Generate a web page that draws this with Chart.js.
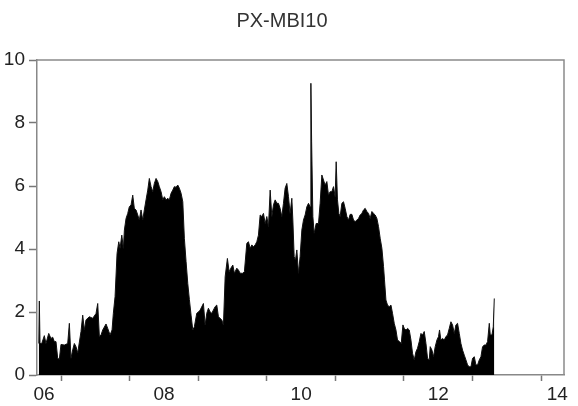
<!DOCTYPE html>
<html><head><meta charset="utf-8">
<script src="https://cdn.jsdelivr.net/npm/chart.js@4/dist/chart.umd.min.js"></script>
<style>html,body{margin:0;padding:0;background:#fff}#wrap{width:578px;height:406px;position:relative}</style>
</head><body><div id="wrap"><canvas id="c"></canvas></div>
<script>
const chartTitle = "PX-MBI10";
const dates = [
2006.672,2006.680,2006.690,2006.715,2006.753,2006.777,2006.817,2006.850,2006.875,2006.899,2006.923,2006.948,2006.972,2006.996,
2007.045,2007.094,2007.118,2007.142,2007.167,2007.191,2007.215,2007.240,2007.288,2007.313,2007.337,2007.361,2007.410,2007.459,
2007.507,2007.532,2007.556,2007.580,2007.605,2007.653,2007.678,2007.712,2007.741,2007.760,2007.785,2007.814,2007.839,2007.858,
2007.883,2007.906,2007.921,2007.945,2007.970,2007.993,
2008.018,2008.043,2008.066,2008.091,2008.116,2008.139,2008.164,2008.189,2008.212,2008.237,2008.262,2008.285,2008.310,2008.335,
2008.358,2008.383,2008.408,2008.431,2008.456,2008.481,2008.504,2008.529,2008.554,2008.577,2008.602,2008.627,2008.650,2008.675,
2008.700,2008.723,2008.748,2008.773,2008.796,2008.821,2008.846,2008.869,2008.894,2008.919,2008.942,2008.977,
2009.001,2009.026,2009.074,2009.099,2009.123,2009.147,2009.172,2009.196,2009.245,2009.269,2009.293,2009.342,2009.366,2009.391,
2009.424,2009.449,2009.474,2009.503,2009.526,2009.561,2009.585,2009.610,2009.649,2009.672,2009.707,2009.731,2009.756,2009.780,
2009.804,2009.829,2009.853,2009.877,2009.902,2009.926,2009.950,2009.975,2009.999,
2010.023,2010.048,2010.072,2010.096,2010.121,2010.145,2010.169,2010.193,2010.218,2010.242,2010.266,2010.291,2010.315,2010.339,
2010.364,2010.379,2010.398,2010.417,2010.437,2010.461,2010.485,2010.510,2010.534,2010.558,2010.583,2010.607,2010.631,2010.642,
2010.653,2010.671,2010.690,2010.719,2010.753,2010.777,2010.802,2010.826,2010.850,2010.875,2010.899,2010.923,2010.948,2010.972,
2010.996,
2011.011,2011.030,2011.050,2011.069,2011.094,2011.118,2011.142,2011.167,2011.191,2011.215,2011.240,2011.264,2011.288,2011.313,
2011.337,2011.361,2011.386,2011.410,2011.434,2011.459,2011.483,2011.507,2011.532,2011.556,2011.580,2011.605,2011.629,2011.653,
2011.678,2011.702,2011.716,2011.737,2011.760,2011.785,2011.810,2011.833,2011.858,2011.883,2011.906,2011.935,2011.960,2011.985,
2012.004,2012.029,2012.052,2012.077,2012.102,2012.125,2012.150,2012.175,2012.198,2012.223,2012.248,2012.271,2012.296,2012.321,
2012.344,2012.369,2012.383,2012.408,2012.431,2012.456,2012.481,2012.504,2012.519,2012.539,2012.563,2012.588,2012.612,2012.636,
2012.661,2012.685,2012.709,2012.734,2012.758,2012.782,2012.807,2012.831,2012.855,2012.880,2012.904,2012.928,2012.953,2012.977,
2013.001,2013.026,2013.050,2013.074,2013.099,2013.123,2013.147,2013.172,2013.196,2013.220,2013.245,2013.259,2013.284,2013.303,
2013.318
];
const values = [
1.00,2.35,1.00,1.00,1.25,1.00,1.32,1.16,1.20,1.06,1.06,0.53,0.50,0.97,
0.95,1.00,1.64,0.53,0.80,1.00,0.90,0.70,1.38,1.90,1.43,1.75,1.85,1.80,
1.95,2.27,1.22,1.27,1.43,1.62,1.48,1.27,1.43,1.96,2.49,3.86,4.23,4.02,
4.44,4.02,4.60,4.97,5.13,5.34,
5.40,5.71,5.29,5.24,5.08,4.92,5.24,4.92,5.24,5.56,5.87,6.24,5.98,5.82,
6.08,6.24,6.14,5.98,5.82,5.56,5.66,5.56,5.61,5.56,5.77,5.87,5.98,5.96,
6.03,5.93,5.77,5.50,4.34,3.60,2.90,2.40,1.90,1.43,1.53,1.96,
2.00,2.06,2.27,1.59,1.96,2.12,2.00,1.96,2.17,2.22,1.85,1.75,1.59,3.12,
3.70,3.28,3.39,3.49,3.23,3.39,3.33,3.23,3.23,3.28,4.18,4.23,4.02,4.13,
4.07,4.13,4.23,4.44,5.08,5.03,5.13,4.81,5.03,
4.71,5.87,5.03,5.40,5.56,5.45,5.45,5.29,5.03,5.45,5.93,6.08,5.66,5.13,
5.61,4.92,3.76,3.65,3.97,3.23,3.76,4.60,4.92,5.08,5.34,5.45,5.34,9.26,
7.40,5.03,4.50,4.81,4.81,5.45,6.35,6.19,6.03,6.14,5.71,5.82,5.82,5.98,
5.66,
6.77,5.56,5.13,5.03,5.45,5.50,5.29,5.03,4.92,5.10,5.10,4.92,4.87,4.92,
4.97,5.08,5.13,5.24,5.29,5.19,5.13,4.97,5.19,5.13,5.08,4.97,4.71,4.34,
4.02,3.44,3.02,2.38,2.22,2.17,2.22,1.96,1.64,1.43,1.11,1.06,1.00,1.59,
1.48,1.43,1.48,1.43,1.11,0.69,0.48,0.74,0.85,1.06,1.32,1.27,1.38,1.00,
0.53,0.48,0.90,0.79,0.58,0.90,1.11,1.22,1.43,1.11,1.16,1.11,1.22,1.27,
1.48,1.69,1.59,1.32,1.59,1.64,1.32,1.00,0.79,0.63,0.48,0.32,0.26,0.26,
0.53,0.58,0.32,0.32,0.48,0.58,0.90,0.95,0.95,1.06,1.64,1.27,1.27,1.53,
2.43
];
const yearTicks = [2007, 2008, 2009, 2010, 2011, 2012, 2013, 2014];
const yearLabels = ["06", "08", "10", "12", "14"];
const yearLabelPos = [2006.748, 2008.5, 2010.5, 2012.5, 2014.237];
const yTicks = [0, 2, 4, 6, 8, 10];
const xMin = 2006.646, xMax = 2014.335;

const frame = {
  id: 'frame',
  afterDraw(chart) {
    const { ctx, chartArea: a } = chart;
    ctx.save();
    ctx.strokeStyle = '#8a8a8a';
    ctx.lineWidth = 1.5;
    ctx.beginPath();
    ctx.moveTo(a.left, a.top);
    ctx.lineTo(a.right, a.top);
    ctx.lineTo(a.right, a.bottom);
    ctx.stroke();
    ctx.restore();
  }
};

const fontFam = "'Liberation Sans', Arial, sans-serif";
new Chart(document.getElementById('c'), {
  type: 'line',
  data: {
    datasets: [{
      data: dates.map((d, i) => ({ x: d, y: values[i] })),
      borderColor: '#111',
      borderWidth: 1,
      backgroundColor: '#000',
      fill: 'origin',
      pointRadius: 0,
      tension: 0
    }]
  },
  options: {
    responsive: true,
    maintainAspectRatio: false,
    animation: false,
    layout: { padding: { top: 0, right: 14, bottom: 0, left: 0 } },
    plugins: {
      legend: { display: false },
      tooltip: { enabled: false },
      title: {
        display: true,
        text: chartTitle,
        color: '#333',
        font: { size: 20, weight: 'normal', family: fontFam },
        padding: { top: 9, bottom: 27 }
      }
    },
    scales: {
      x: {
        type: 'linear',
        min: xMin,
        max: xMax,
        afterBuildTicks: s => {
          s.ticks = yearTicks.concat(yearLabelPos).sort((a, b) => a - b).map(v => ({ value: v }));
        },
        afterFit: s => { s.height = 31; },
        ticks: {
          autoSkip: false,
          maxRotation: 0,
          padding: 2,
          color: '#222',
          font: { size: 19, family: fontFam },
          callback: v => {
            const i = yearLabelPos.indexOf(v);
            return i >= 0 ? yearLabels[i] : '';
          }
        },
        grid: {
          drawOnChartArea: false,
          tickLength: 6,
          tickWidth: 1.5,
          tickColor: c => (c.tick && yearTicks.includes(c.tick.value)) ? '#777' : 'rgba(0,0,0,0)'
        },
        border: { color: '#888', width: 1.5 }
      },
      y: {
        min: 0,
        max: 10,
        afterBuildTicks: s => { s.ticks = yTicks.map(v => ({ value: v })); },
        afterFit: s => { s.width = 37; },
        ticks: {
          padding: 4,
          color: '#222',
          font: { size: 19, family: fontFam }
        },
        grid: {
          drawOnChartArea: false,
          tickLength: 8,
          tickWidth: 1.5,
          tickColor: '#777'
        },
        border: { color: '#888', width: 1.5 }
      }
    }
  },
  plugins: [frame]
});
</script>
</body></html>
